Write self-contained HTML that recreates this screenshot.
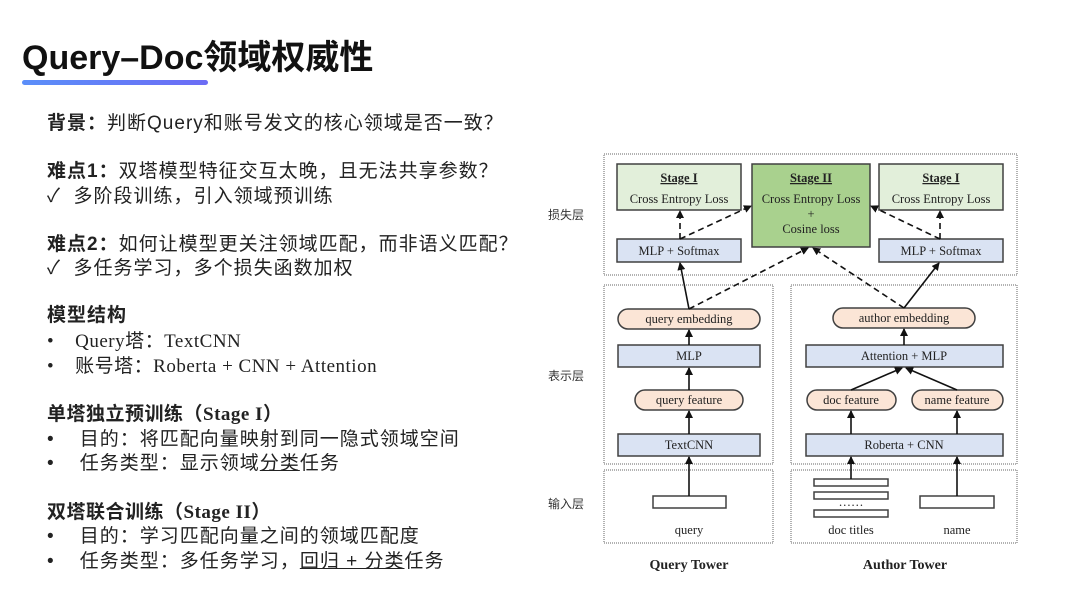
<!DOCTYPE html>
<html><head><meta charset="utf-8"><style>
html,body{margin:0;padding:0;background:#fff;}
body{width:1080px;height:608px;overflow:hidden;position:relative;font-family:"Liberation Sans","Noto Sans CJK SC",sans-serif;}
.t{position:absolute;left:47px;font-size:19px;letter-spacing:1px;color:#222;white-space:nowrap;line-height:22px;}
.b{font-weight:bold;}
.s{font-family:"Liberation Serif","Noto Sans CJK SC",serif;letter-spacing:0.5px;}
.u{text-decoration:underline;}
.c{font-family:"Noto Sans CJK SC",sans-serif;}
</style></head><body>
<div style="position:absolute;left:22px;top:30px;font-size:34px;font-weight:bold;color:#111;white-space:nowrap;">Query–Doc领域权威性</div>
<div style="position:absolute;left:22px;top:80px;width:186px;height:5px;border-radius:3px;background:linear-gradient(90deg,#5b8ff9,#6c6cf5);"></div>

<div class="t" style="top:111px"><span class="b">背景<span class="c">：</span></span>判断Query和账号发文的核心领域是否一致<span class="c">？</span></div>
<div class="t" style="top:159px"><span class="b">难点1<span class="c">：</span></span>双塔模型特征交互太晚<span class="c">，</span>且无法共享参数<span class="c">？</span></div>
<div class="t" style="top:184px">✓&nbsp; 多阶段训练<span class="c">，</span>引入领域预训练</div>
<div class="t" style="top:232px"><span class="b">难点2<span class="c">：</span></span>如何让模型更关注领域匹配<span class="c">，</span>而非语义匹配<span class="c">？</span></div>
<div class="t" style="top:256px">✓&nbsp; 多任务学习<span class="c">，</span>多个损失函数加权</div>
<div class="t b" style="top:305px">模型结构</div>
<div class="t s" style="top:329px">•&nbsp;&nbsp;&nbsp;&nbsp;Query塔<span class="c">：</span>TextCNN</div>
<div class="t s" style="top:354px">•&nbsp;&nbsp;&nbsp;&nbsp;账号塔<span class="c">：</span>Roberta + CNN + Attention</div>
<div class="t b s" style="top:402px">单塔独立预训练<span class="c">（</span>Stage I<span class="c">）</span></div>
<div class="t" style="top:427px">•&nbsp;&nbsp;&nbsp;&nbsp;目的<span class="c">：</span>将匹配向量映射到同一隐式领域空间</div>
<div class="t" style="top:451px">•&nbsp;&nbsp;&nbsp;&nbsp;任务类型<span class="c">：</span>显示领域<span class="u">分类</span>任务</div>
<div class="t b s" style="top:500px">双塔联合训练<span class="c">（</span>Stage II<span class="c">）</span></div>
<div class="t" style="top:524px">•&nbsp;&nbsp;&nbsp;&nbsp;目的<span class="c">：</span>学习匹配向量之间的领域匹配度</div>
<div class="t" style="top:549px">•&nbsp;&nbsp;&nbsp;&nbsp;任务类型<span class="c">：</span>多任务学习<span class="c">，</span><span class="u">回归 + 分类</span>任务</div>

<svg style="position:absolute;left:0;top:0" width="1080" height="608" viewBox="0 0 1080 608">
<defs><marker id="a" markerWidth="8" markerHeight="8" refX="7" refY="4" orient="auto" markerUnits="userSpaceOnUse"><path d="M0,0 L8,4 L0,8 z" fill="#111"/></marker></defs>
<g fill="none" stroke="#666" stroke-width="1" stroke-dasharray="1,1">
<rect x="604" y="154" width="413" height="121"/>
<rect x="604" y="285" width="169" height="179"/>
<rect x="791" y="285" width="226" height="179"/>
<rect x="604" y="470" width="169" height="73"/>
<rect x="791" y="470" width="226" height="73"/>
</g>
<g stroke="#404040" stroke-width="1.5">
<rect x="617" y="164" width="124" height="46" fill="#e2efda"/>
<rect x="752" y="164" width="118" height="83" fill="#a9d18e"/>
<rect x="879" y="164" width="124" height="46" fill="#e2efda"/>
<rect x="617" y="239" width="124" height="23" fill="#dae3f3"/>
<rect x="879" y="239" width="124" height="23" fill="#dae3f3"/>
<rect x="618" y="309" width="142" height="20" rx="10" fill="#fbe5d6"/>
<rect x="618" y="345" width="142" height="22" fill="#dae3f3"/>
<rect x="635" y="390" width="108" height="20" rx="10" fill="#fbe5d6"/>
<rect x="618" y="434" width="142" height="22" fill="#dae3f3"/>
<rect x="833" y="308" width="142" height="20" rx="10" fill="#fbe5d6"/>
<rect x="806" y="345" width="197" height="22" fill="#dae3f3"/>
<rect x="807" y="390" width="89" height="20" rx="10" fill="#fbe5d6"/>
<rect x="912" y="390" width="91" height="20" rx="10" fill="#fbe5d6"/>
<rect x="806" y="434" width="197" height="22" fill="#dae3f3"/>
<g fill="#fff"><rect x="653" y="496" width="73" height="12"/><rect x="814" y="479" width="74" height="7"/><rect x="814" y="492" width="74" height="7"/><rect x="814" y="510" width="74" height="7"/><rect x="920" y="496" width="74" height="12"/></g>
</g>
<g stroke="#111" stroke-width="1.6" marker-end="url(#a)">
<line x1="689" y1="496" x2="689" y2="457"/>
<line x1="851" y1="479" x2="851" y2="457"/>
<line x1="957" y1="496" x2="957" y2="457"/>
<line x1="689" y1="434" x2="689" y2="411"/>
<line x1="689" y1="390" x2="689" y2="368"/>
<line x1="689" y1="345" x2="689" y2="330"/>
<line x1="851" y1="434" x2="851" y2="411"/>
<line x1="957" y1="434" x2="957" y2="411"/>
<line x1="851" y1="390" x2="902" y2="368"/>
<line x1="957" y1="390" x2="906" y2="368"/>
<line x1="904" y1="345" x2="904" y2="329"/>
<line x1="689" y1="309" x2="680" y2="263"/>
<line x1="904" y1="308" x2="939" y2="263"/>
</g>
<g stroke="#111" stroke-width="1.6" stroke-dasharray="6,4" marker-end="url(#a)">
<line x1="689" y1="309" x2="808" y2="248"/>
<line x1="904" y1="308" x2="813" y2="248"/>
<line x1="680" y1="239" x2="680" y2="211"/>
<line x1="680" y1="239" x2="751" y2="206"/>
<line x1="940" y1="239" x2="940" y2="211"/>
<line x1="940" y1="239" x2="871" y2="206"/>
</g>
<g font-family="Liberation Serif, serif" font-size="12.5" fill="#222" text-anchor="middle">
<text x="679" y="182" font-weight="bold" text-decoration="underline">Stage I</text>
<text x="679" y="203">Cross Entropy Loss</text>
<text x="811" y="182" font-weight="bold" text-decoration="underline">Stage II</text>
<text x="811" y="203">Cross Entropy Loss</text>
<text x="811" y="218">+</text>
<text x="811" y="233">Cosine loss</text>
<text x="941" y="182" font-weight="bold" text-decoration="underline">Stage I</text>
<text x="941" y="203">Cross Entropy Loss</text>
<text x="679" y="255">MLP + Softmax</text>
<text x="941" y="255">MLP + Softmax</text>
<text x="689" y="323">query embedding</text>
<text x="689" y="360">MLP</text>
<text x="689" y="404">query feature</text>
<text x="689" y="449">TextCNN</text>
<text x="904" y="322">author embedding</text>
<text x="904" y="360">Attention + MLP</text>
<text x="851" y="404">doc feature</text>
<text x="957" y="404">name feature</text>
<text x="904" y="449">Roberta + CNN</text>
<text x="851" y="506">……</text>
<text x="689" y="534">query</text>
<text x="851" y="534">doc titles</text>
<text x="957" y="534">name</text>
<text x="689" y="569" font-weight="bold" font-size="14">Query Tower</text>
<text x="905" y="569" font-weight="bold" font-size="14">Author Tower</text>
</g>
<g font-family="Liberation Sans, Noto Sans CJK SC, sans-serif" font-size="12" fill="#333">
<text x="548" y="219">损失层</text>
<text x="548" y="380">表示层</text>
<text x="548" y="508">输入层</text>
</g>
</svg>
</body></html>
